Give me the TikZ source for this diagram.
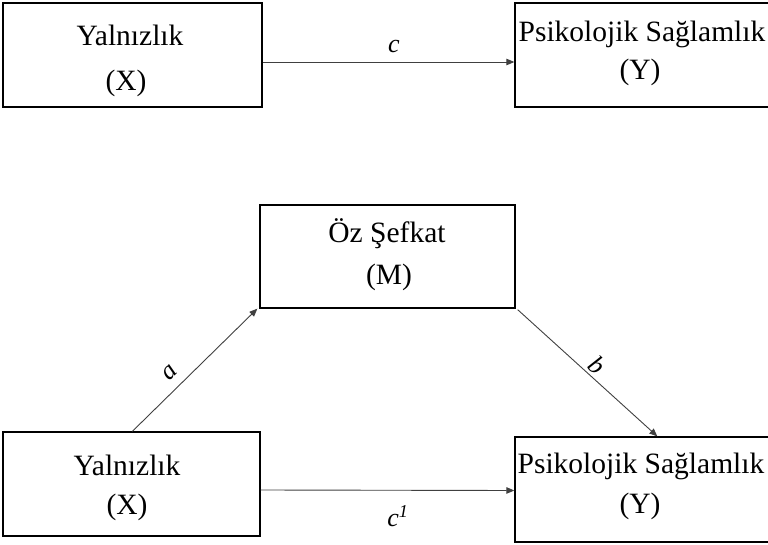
\documentclass[tikz,border=0pt]{standalone}
\usepackage{fontspec}
\setmainfont{Liberation Serif}
\usetikzlibrary{arrows.meta,calc}
\begin{document}
\begin{tikzpicture}[x=1pt,y=1pt,
  boxstyle/.style={draw=black,line width=1.3pt,inner sep=0pt},
  txt/.style={anchor=base,inner sep=0pt,font=\fontsize{29.5}{34}\selectfont},
  conn/.style={draw=black!75,line width=0.9pt,-{Triangle[length=8pt,width=6.5pt]}},
  lbl/.style={font=\fontsize{26}{30}\selectfont\itshape,inner sep=1pt}]
\useasboundingbox (0,0) rectangle (768,-545);
% top row
\node[boxstyle,minimum width=259pt,minimum height=104pt] (tl) at (132.5,-55) {};
\node[txt] (tl1) at (130,-46) {Yalnızlık};
\node[txt] (tl2) at (126,-91) {(X)};
\node[boxstyle,minimum width=260pt,minimum height=104pt] (tr) at (645,-55) {};
\node[txt] (tr1) at (642,-42) {Psikolojik Sağlamlık};
\node[txt] (tr2) at (640,-80) {(Y)};
% middle
\node[boxstyle,minimum width=255pt,minimum height=103pt] (m) at (387.5,-256.5) {};
\node[txt] (m1) at (387,-243) {Öz Şefkat};
\node[txt] (m2) at (389,-284) {(M)};
% bottom row
\node[boxstyle,minimum width=257pt,minimum height=104pt] (bl) at (131.5,-484) {};
\node[txt] (bl1) at (127,-475) {Yalnızlık};
\node[txt] (bl2) at (127,-514) {(X)};
\node[boxstyle,minimum width=260pt,minimum height=105pt] (br) at (645,-489.5) {};
\node[txt] (br1) at (641,-473) {Psikolojik Sağlamlık};
\node[txt] (br2) at (640,-513) {(Y)};
% connectors
\draw[conn] ([yshift=-7pt]tl.east) -- ([yshift=-7pt]tr.west);
\node[lbl] (lc) at (394,-47) {c};
\coordinate (aStart) at ($(bl.north west)+(130,0)$);
\draw[conn] (aStart) -- ([xshift=-2pt]m.south west);
\node[lbl,rotate=45] (la) at (170,-373) {a};
\coordinate (bEnd) at ($(br.north west)+(143,0)$);
\draw[conn] ([xshift=2pt,yshift=-1pt]m.south east) -- (bEnd);
\node[lbl,rotate=-41.6] (lb) at (597,-365) {b};
\draw[conn] ([yshift=-6pt]bl.east) -- ([yshift=-1pt]br.west);
\node[lbl] (lc1) at (398,-516) {c\textsuperscript{1}};
\end{tikzpicture}
\end{document}
